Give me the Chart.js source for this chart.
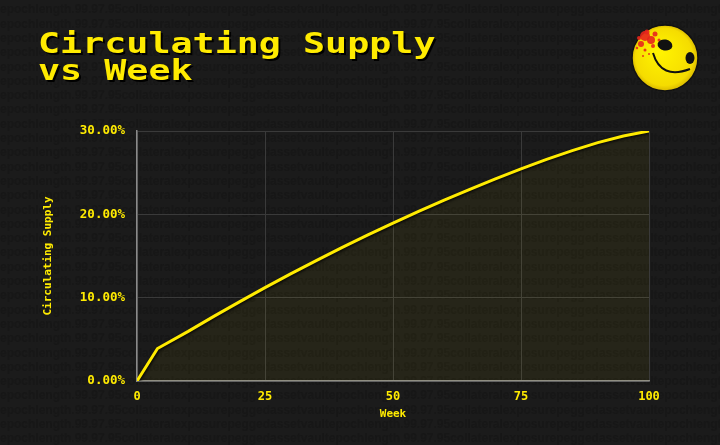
<!DOCTYPE html>
<html>
<head>
<meta charset="utf-8">
<script src="https://cdn.jsdelivr.net/npm/chart.js@4.4.1/dist/chart.umd.min.js"></script>
<style>
  html, body { margin: 0; padding: 0; background: #1b1b1b; }
  #wrap { width: 720px; height: 445px; }
</style>
</head>
<body>
<div id="wrap"><canvas id="supplyChart" width="720" height="445"></canvas></div>
<script>
// data
const weeks = [0, 4, 10, 15, 20, 25, 30, 35, 40, 45, 50, 55, 60, 65, 70, 75, 80, 85, 90, 95, 100];
const supply = [0, 3.9, 5.95, 7.75, 9.5, 11.2, 12.85, 14.45, 16.0, 17.5, 18.95, 20.35, 21.7, 23.0, 24.25, 25.45, 26.6, 27.65, 28.6, 29.4, 30.0];
const titleLines = ["Circulating Supply", "vs Week"];
const xTicks = [0, 25, 50, 75, 100];
const yTicks = [0, 10, 20, 30];

const YELLOW = "#ffeb00";
const MONO = "'DejaVu Sans Mono', 'Liberation Mono', monospace";
const bgWords = "epochlength.99.97.95collateralexposurepeggedassetvault";

// background texture, title and the smiley badge
const decorPlugin = {
  id: "decor",
  beforeDraw(chart) {
    const ctx = chart.ctx;
    ctx.save();
    ctx.fillStyle = "#1b1b1b";
    ctx.fillRect(0, 0, chart.width, chart.height);
    ctx.font = "bold 12px 'Liberation Sans', Arial, sans-serif";
    ctx.fillStyle = "#171717";
    ctx.textBaseline = "middle";
    const row = bgWords.repeat(4);
    for (let y = 10; y < chart.height + 10; y += 14.3) {
      ctx.fillText(row, 0, y);
    }
    ctx.restore();

    // title
    ctx.save();
    ctx.font = "bold 28px " + MONO;
    ctx.textBaseline = "alphabetic";
    titleLines.forEach((line, i) => {
      ctx.save();
      ctx.translate(38, 53 + i * 27);
      ctx.scale(1.31, 1);
      ctx.fillStyle = "#000";
      ctx.fillText(line, 1.5, 2);
      ctx.fillStyle = YELLOW;
      ctx.fillText(line, 0, 0);
      ctx.restore();
    });
    ctx.restore();

    drawSmiley(ctx, 665, 58, 33);
  },
  beforeDatasetDraw(chart) {
    const ctx = chart.ctx;
    ctx.save();
    ctx.shadowColor = "rgba(0,0,0,0.9)";
    ctx.shadowBlur = 3;
    ctx.shadowOffsetX = 1;
    ctx.shadowOffsetY = 1;
  },
  afterDatasetDraw(chart) {
    chart.ctx.restore();
  }
};

function drawSmiley(ctx, cx, cy, r) {
  ctx.save();
  ctx.beginPath();
  ctx.arc(cx, cy, r, 0, Math.PI * 2);
  const g = ctx.createRadialGradient(cx - 6, cy - 8, 4, cx, cy, r);
  g.addColorStop(0, "#fff200");
  g.addColorStop(0.85, "#f5dc00");
  g.addColorStop(1, "#d9b800");
  ctx.fillStyle = g;
  ctx.fill();
  ctx.lineWidth = 1.5;
  ctx.strokeStyle = "#111";
  ctx.stroke();

  // red splatter
  ctx.fillStyle = "rgba(232, 38, 28, 0.9)";
  const blobs = [[-20, -22, 5], [-14, -18, 4], [-24, -14, 3], [-18, -26, 2.5], [-10, -24, 2.5], [-26, -20, 2], [-12, -12, 2], [-20, -8, 1.5], [-6, -18, 1.5], [-28, -10, 1.2], [-16, -4, 1], [-4, -10, 1], [-22, -2, 1]];
  blobs.forEach(b => {
    ctx.beginPath();
    ctx.arc(cx + b[0], cy + b[1], b[2], 0, Math.PI * 2);
    ctx.fill();
  });

  // eyes
  ctx.fillStyle = "#111";
  ctx.beginPath();
  ctx.ellipse(cx + 0, cy - 13, 7.5, 5.5, 0.2, 0, Math.PI * 2);
  ctx.fill();
  ctx.beginPath();
  ctx.ellipse(cx + 25, cy + 0, 4.5, 6, 0, 0, Math.PI * 2);
  ctx.fill();

  // smile
  ctx.beginPath();
  ctx.moveTo(cx - 12, cy - 5);
  ctx.quadraticCurveTo(cx - 4, cy + 22, cx + 25, cy + 11);
  ctx.lineWidth = 2;
  ctx.strokeStyle = "#111";
  ctx.stroke();
  ctx.restore();
}

const ctx = document.getElementById("supplyChart").getContext("2d");
new Chart(ctx, {
  type: "line",
  data: {
    datasets: [{
      label: "Circulating Supply",
      data: weeks.map((w, i) => ({ x: w, y: supply[i] })),
      borderColor: YELLOW,
      borderWidth: 3,
      backgroundColor: "rgba(255, 235, 0, 0.05)",
      fill: "origin",
      pointRadius: 0,
      tension: 0
    }]
  },
  options: {
    responsive: false,
    animation: false,
    devicePixelRatio: 1,
    layout: { padding: { top: 131, left: 38, right: 71, bottom: 20 } },
    plugins: {
      legend: { display: false },
      tooltip: { enabled: false }
    },
    scales: {
      x: {
        type: "linear",
        min: 0,
        max: 100,
        afterBuildTicks: s => { s.ticks = xTicks.map(v => ({ value: v })); },
        afterFit: s => { s.height = 44; },
        grid: { color: "#3a3a3a", drawTicks: false },
        border: { color: "#8a8a8a", width: 1.5 },
        ticks: { color: YELLOW, padding: 9, font: { family: MONO, size: 12, weight: "bold" } },
        title: {
          display: true,
          text: "Week",
          color: YELLOW,
          padding: { top: 0, bottom: 4 },
          font: { family: MONO, size: 11, weight: "bold" }
        }
      },
      y: {
        min: 0,
        max: 30,
        afterBuildTicks: s => { s.ticks = yTicks.map(v => ({ value: v })); },
        afterFit: s => { s.width = 99; },
        grid: { color: "#3a3a3a", drawTicks: false },
        border: { color: "#8a8a8a", width: 1.5 },
        ticks: {
          color: YELLOW,
          padding: 12,
          font: { family: MONO, size: 12.5, weight: "bold" },
          callback: v => v.toFixed(2) + "%"
        },
        title: {
          display: true,
          text: "Circulating Supply",
          color: YELLOW,
          padding: { top: 4, bottom: 0 },
          font: { family: MONO, size: 11, weight: "bold" }
        }
      }
    }
  },
  plugins: [decorPlugin]
});
</script>
</body>
</html>
